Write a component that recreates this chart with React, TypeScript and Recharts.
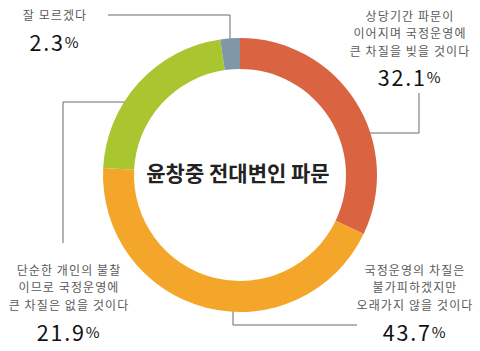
import { PieChart, Pie, Cell } from 'recharts';

const categories = [
  '상당기간 파문이 이어지며 국정운영에 큰 차질을 빚을 것이다',
  '국정운영의 차질은 불가피하겠지만 오래가지 않을 것이다',
  '단순한 개인의 불찰이므로 국정운영에 큰 차질은 없을 것이다',
  '잘 모르겠다',
];
const values = [32.1, 43.7, 21.9, 2.3];
const labelLines = [
  ['상당기간 파문이', '이어지며 국정운영에', '큰 차질을 빚을 것이다'],
  ['국정운영의 차질은', '불가피하겠지만', '오래가지 않을 것이다'],
  ['단순한 개인의 불찰', '이므로 국정운영에', '큰 차질은 없을 것이다'],
  ['잘 모르겠다'],
];
const colors = ['#DA6442', '#F3A62A', '#A9C631', '#7F97A6'];
const title = '윤창중 전대변인 파문';

const data = categories.map((name, i) => ({ name, value: values[i] }));

// where each label block sits, and its leader line
const layout = [
  { x: 410, y: 15, pctY: 76, line: '419,93 419,133 355,133' },
  { x: 415, y: 269, pctY: 331, line: '233,293 233,325 357,325' },
  { x: 69, y: 269, pctY: 331, line: '143,102 63,102 63,243' },
  { x: 55, y: 14, pctY: 41, line: '108,15 230,15 230,52' },
];

const font = '"Noto Sans CJK KR", "Noto Sans", sans-serif';

export default function App() {
  return (
    <div style={{ position: 'absolute', left: 0, top: 0, width: 480, height: 351, background: '#fff' }}>
      <PieChart width={480} height={351} margin={{ top: 0, right: 0, bottom: 0, left: 0 }}>
        <Pie
          data={data}
          dataKey="value"
          nameKey="name"
          cx={240}
          cy={175}
          innerRadius={106}
          outerRadius={137}
          startAngle={90}
          endAngle={-270}
          stroke="none"
          isAnimationActive={false}
        >
          {data.map((d, i) => (
            <Cell key={d.name} fill={colors[i]} />
          ))}
        </Pie>
        <g>
          {layout.map((l, i) => (
            <polyline key={'l' + i} points={l.line} fill="none" stroke="#6b6b6b" strokeWidth={1} />
          ))}
          {layout.map((l, i) => (
            <g key={'t' + i}>
              {labelLines[i].map((t, j) => (
                <text
                  key={j}
                  x={l.x}
                  y={l.y + j * 17.5}
                  textAnchor="middle"
                  dominantBaseline="central"
                  fontFamily={font}
                  fontSize={12}
                  letterSpacing={1.1}
                  fill="#5a5a5a"
                >
                  {t}
                </text>
              ))}
              <text
                x={l.x}
                y={l.pctY}
                textAnchor="middle"
                dominantBaseline="central"
                fontFamily={font}
                fontSize={21.5}
                letterSpacing={1.8}
                fill="#111"
              >
                {values[i].toFixed(1)}
                <tspan fontSize={15}>%</tspan>
              </text>
            </g>
          ))}
          <text
            x={238}
            y={172}
            textAnchor="middle"
            dominantBaseline="central"
            fontFamily={font}
            fontSize={21}
            fontWeight={700}
            letterSpacing={0}
            fill="#222"
          >
            {title}
          </text>
        </g>
      </PieChart>
    </div>
  );
}
